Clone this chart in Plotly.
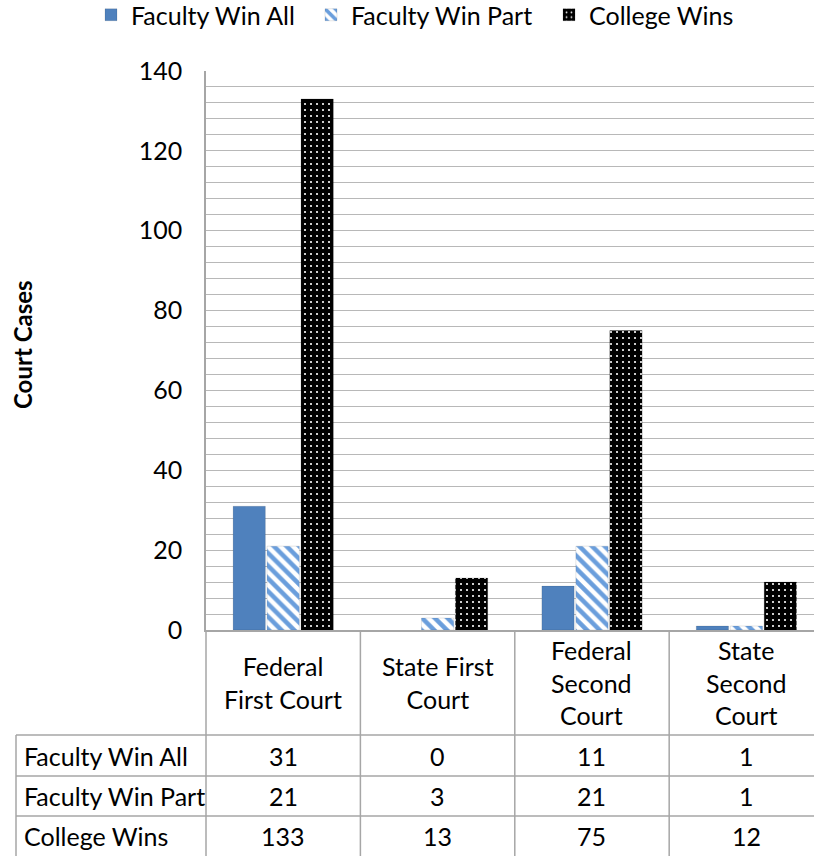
import plotly.graph_objects as go

categories = ["Federal First Court", "State First Court", "Federal Second Court", "State Second Court"]
header_labels = ["Federal<br>First Court", "State First<br>Court", "Federal<br>Second<br>Court", "State<br>Second<br>Court"]
series_names = ["Faculty Win All", "Faculty Win Part", "College Wins"]
faculty_win_all = [31, 0, 11, 1]
faculty_win_part = [21, 3, 21, 1]
college_wins = [133, 13, 75, 12]
y_ticks = [0, 20, 40, 60, 80, 100, 120, 140]

FONT = "Lato"
FS = 25
W, H = 814, 856
ML, MT, MB, MR = 206, 71, 226, 0
plot_w = W - ML - MR
plot_h = H - MT - MB

x_idx = list(range(len(categories)))
x_min, x_max = -0.5, 3.438

def px_to_paper_x(px):
    return (px - ML) / plot_w

def px_to_paper_y(py):
    return (H - MB - py) / plot_h

def cat_paper(v):
    return (v - x_min) / (x_max - x_min)

def outline(vals, alpha):
    return dict(color="rgba(0,0,0,%s)" % alpha, width=[0 if v == 0 else 1 for v in vals])

fig = go.Figure()
fig.add_trace(go.Bar(
    name=series_names[0], x=x_idx, y=faculty_win_all, legend="legend",
    marker=dict(color="#4f81bd", line=outline(faculty_win_all, 0.10)),
))
fig.add_trace(go.Bar(
    name=series_names[1], x=x_idx, y=faculty_win_part, legend="legend2",
    marker=dict(color="white", line=outline(faculty_win_part, 0.10),
                pattern=dict(shape="\\", bgcolor="white", fgcolor="#6a9edc",
                             size=9, solidity=0.5, fillmode="replace")),
))
fig.add_trace(go.Bar(
    name=series_names[2], x=x_idx, y=college_wins, legend="legend3",
    marker=dict(color="black", line=outline(college_wins, 0.15),
                pattern=dict(shape=".", bgcolor="black", fgcolor="white",
                             size=6, solidity=0.1, fillmode="replace")),
))

line_col = "#a6a6a6"
shapes = []
row_lines_px = [735, 776, 816]
bottom_px = 856
for b in [-0.5, 0.5, 1.5, 2.5]:
    xp = cat_paper(b)
    shapes.append(dict(type="line", xref="paper", yref="paper", x0=xp, x1=xp,
                       y0=0, y1=px_to_paper_y(bottom_px), line=dict(color=line_col, width=1.5)))
lx = px_to_paper_x(16)
shapes.append(dict(type="line", xref="paper", yref="paper", x0=lx, x1=lx,
                   y0=px_to_paper_y(row_lines_px[0]), y1=px_to_paper_y(bottom_px),
                   line=dict(color=line_col, width=1.5)))
for r in row_lines_px:
    yp = px_to_paper_y(r)
    shapes.append(dict(type="line", xref="paper", yref="paper", x0=lx, x1=1,
                       y0=yp, y1=yp, line=dict(color=line_col, width=1.5)))

annotations = []
header_y = px_to_paper_y((630 + row_lines_px[0]) / 2)
for i, lab in enumerate(header_labels):
    annotations.append(dict(x=i, y=header_y, xref="x", yref="paper", text=lab,
                            showarrow=False, xanchor="center", yanchor="middle",
                            font=dict(family=FONT, size=FS, color="black")))
rows = [faculty_win_all, faculty_win_part, college_wins]
row_centers = [(row_lines_px[0] + row_lines_px[1]) / 2,
               (row_lines_px[1] + row_lines_px[2]) / 2,
               (row_lines_px[2] + bottom_px) / 2]
for name, vals, rc in zip(series_names, rows, row_centers):
    yp = px_to_paper_y(rc)
    annotations.append(dict(x=px_to_paper_x(22), y=yp, xref="paper", yref="paper",
                            text=name, showarrow=False, xanchor="left", yanchor="middle",
                            font=dict(family=FONT, size=FS, color="black")))
    for i, v in enumerate(vals):
        annotations.append(dict(x=i, y=yp, xref="x", yref="paper", text=str(v),
                                showarrow=False, xanchor="center", yanchor="middle",
                                font=dict(family=FONT, size=FS, color="black")))
annotations.append(dict(x=px_to_paper_x(22), y=px_to_paper_y(345), xref="paper", yref="paper",
                        text="<b>Court Cases</b>", textangle=-90, showarrow=False,
                        xanchor="center", yanchor="middle",
                        font=dict(family=FONT, size=FS - 1, color="black")))

def leg(px):
    return dict(orientation="h", x=px_to_paper_x(px), xanchor="left",
                y=px_to_paper_y(-8), yanchor="top", bgcolor="rgba(0,0,0,0)",
                font=dict(family=FONT, size=FS, color="black"), itemwidth=30)

fig.update_layout(
    width=W, height=H,
    margin=dict(l=ML, r=MR, t=MT, b=MB, autoexpand=False),
    paper_bgcolor="white", plot_bgcolor="white",
    barmode="group", bargap=0.34, bargroupgap=0.05,
    font=dict(family=FONT, size=FS, color="black"),
    showlegend=True,
    legend=leg(91), legend2=leg(311), legend3=leg(549),
    shapes=shapes, annotations=annotations,
)
fig.update_xaxes(range=[x_min, x_max], showticklabels=False, showgrid=False,
                 showline=True, linecolor=line_col, linewidth=1.5, ticks="",
                 zeroline=False, fixedrange=True)
fig.update_yaxes(range=[0, 140], tickvals=y_ticks, showgrid=True, gridcolor="#b8b8b8",
                 gridwidth=1.4, minor=dict(dtick=4, showgrid=True, gridcolor="#b8b8b8", gridwidth=1.4),
                 showline=True, linecolor=line_col, linewidth=1.5, ticks="",
                 ticklabelstandoff=17, zeroline=False,
                 tickfont=dict(family=FONT, size=FS, color="black"), fixedrange=True)

fig.write_html("out.html", config={"displayModeBar": False},
               post_script="document.body.style.margin='0';")
